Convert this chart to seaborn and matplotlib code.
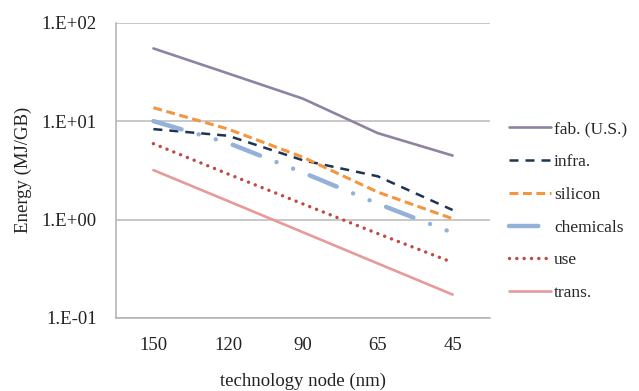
import numpy as np
import pandas as pd
import matplotlib
matplotlib.use("Agg")
import matplotlib.pyplot as plt
from matplotlib.ticker import FixedLocator, FuncFormatter, NullLocator
import seaborn as sns

nodes = ["150", "120", "90", "65", "45"]
series_names = ["fab. (U.S.)", "infra.", "silicon", "chemicals", "use", "trans."]
fab = [54.8, 30.5, 16.9, 7.55, 4.47]
infra = [8.3, 7.1, 4.0, 2.75, 1.25]
silicon = [13.7, 8.3, 4.3, 1.9, 1.02]
chemicals = [10.0, 6.0, 3.0, 1.45, 0.735]
use = [5.9, 2.9, 1.44, 0.72, 0.367]
trans = [3.18, 1.54, 0.743, 0.358, 0.173]
yticks = [0.1, 1, 10, 100]

sns.set_theme(style="white")
plt.rcParams['font.family'] = ['Liberation Serif', 'DejaVu Serif']

values = [fab, infra, silicon, chemicals, use, trans]
rows = []
for name, vals in zip(series_names, values):
    for i, (n, v) in enumerate(zip(nodes, vals)):
        rows.append({"series": name, "pos": i, "node": n, "energy": v})
df = pd.DataFrame(rows)

styles = {
    "fab. (U.S.)": dict(color="#8f83a2", lw=1.9, dashes=None, cap="butt"),
    "infra.": dict(color="#1c3552", lw=1.8, dashes=(3.6, 2.8), cap="butt"),
    "silicon": dict(color="#f4953f", lw=2.2, dashes=(2.9, 1.5), cap="butt"),
    "chemicals": dict(color="#93b1d9", lw=3.2, dashes=(6.6, 4.0, 0.01, 4.0, 0.01, 4.0), cap="round"),
    "use": dict(color="#be4b48", lw=2.5, dashes=(0.01, 2.1), cap="round"),
    "trans.": dict(color="#e59b99", lw=1.9, dashes=None, cap="butt"),
}

FS = 13.5
LFS = 12.5
TC = "#222222"

fig = plt.figure(figsize=(6.39, 3.91), dpi=100)
ax = fig.add_axes([116/639, 1-318/391, (490-116)/639, (318-22.7)/391])

for name in series_names:
    st = styles[name]
    sub = df[df["series"] == name]
    sns.lineplot(data=sub, x="pos", y="energy", ax=ax, color=st["color"],
                 linewidth=st["lw"], label=name, sort=False)
    line = ax.lines[-1]
    if st["dashes"] is not None:
        line.set_dashes(st["dashes"])
        line.set_dash_capstyle(st["cap"])

ax.set_yscale("log")
ax.set_ylim(0.1, 100)
ax.set_xlim(-0.5, len(nodes) - 0.5)
ax.yaxis.set_major_locator(FixedLocator(yticks))
ax.yaxis.set_minor_locator(NullLocator())
ax.yaxis.set_major_formatter(FuncFormatter(lambda v, p: f"1.E{int(round(np.log10(v))):+03d}"))

ax.set_xticks(range(len(nodes)))
ax.set_xticklabels(nodes)
ax.set_xticks(np.arange(-0.5, len(nodes)), minor=True)
ax.tick_params(axis="x", which="major", length=0, pad=14, labelsize=FS, colors=TC)
ax.tick_params(axis="x", which="minor", length=5, width=1, color="#b0b0b0", direction="out")
ax.tick_params(axis="y", which="major", length=6, width=1, color="#b0b0b0", direction="out",
               pad=8, labelsize=FS, labelcolor=TC)

ax.grid(axis="y", which="major", color="#c4c4c4", lw=1.3)
ax.grid(axis="x", visible=False)
ax.set_axisbelow(True)
for s in ["top", "right"]:
    ax.spines[s].set_visible(False)
for s in ["left", "bottom"]:
    ax.spines[s].set_color("#b0b0b0")
    ax.spines[s].set_linewidth(1.1)

ax.set_xlabel("technology node (nm)", fontsize=FS, color=TC)
ax.set_ylabel("Energy (MJ/GB)", fontsize=FS, color=TC)
ax.xaxis.set_label_coords(0.5, -0.185)
ax.yaxis.set_label_coords(-0.225, 0.5)

ax.legend(loc="upper left", bbox_to_anchor=(509/639, 1-121/391),
          bbox_transform=fig.transFigure, frameon=False, fontsize=LFS,
          handlelength=2.4, handletextpad=0.2, labelspacing=0.96,
          borderpad=0, borderaxespad=0)

fig.savefig("out.png", dpi=100)
